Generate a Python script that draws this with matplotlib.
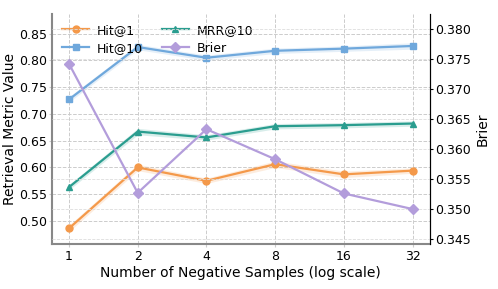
import numpy as np
import matplotlib
matplotlib.use('Agg')
import matplotlib.pyplot as plt

# data
neg_samples = [1, 2, 4, 8, 16, 32]
hit1 = [0.486, 0.600, 0.575, 0.606, 0.587, 0.594]
hit10 = [0.727, 0.825, 0.805, 0.818, 0.822, 0.827]
mrr10 = [0.563, 0.667, 0.656, 0.677, 0.679, 0.682]
brier = [0.3742, 0.3527, 0.3633, 0.3583, 0.3526, 0.3500]
hit1_std = [0.006, 0.006, 0.005, 0.006, 0.006, 0.005]
hit10_std = [0.005, 0.005, 0.005, 0.005, 0.005, 0.006]
mrr10_std = [0.005, 0.006, 0.005, 0.005, 0.005, 0.005]

c_hit1 = '#F4994A'
c_hit10 = '#6FA8DC'
c_mrr = '#2A9D8F'
c_brier = '#B39DDB'

fig, ax = plt.subplots(figsize=(4.98, 2.89), dpi=100)
fig.subplots_adjust(left=0.104, right=0.863, top=0.952, bottom=0.156)
ax2 = ax.twinx()

x = np.array(neg_samples)
handles = []
for vals, std, col, mk, lab in [(hit1, hit1_std, c_hit1, 'o', 'Hit@1'),
                                (hit10, hit10_std, c_hit10, 's', 'Hit@10'),
                                (mrr10, mrr10_std, c_mrr, '^', 'MRR@10')]:
    v = np.array(vals); s = np.array(std)
    ax.fill_between(x, v - s, v + s, color=col, alpha=0.18, lw=0)
    h, = ax.plot(x, v, color=col, marker=mk, ms=5, lw=1.6, label=lab)
    handles.append(h)

hb, = ax2.plot(x, brier, color=c_brier, marker='D', ms=5, lw=1.6, label='Brier')
handles.append(hb)

ax.set_xscale('log', base=2)
ax.set_xticks(neg_samples)
ax.set_xticklabels([str(n) for n in neg_samples])
ax.minorticks_off()
ax.set_ylim(0.457, 0.887)
ax.set_yticks([0.50, 0.55, 0.60, 0.65, 0.70, 0.75, 0.80, 0.85])
ax2.set_ylim(0.3442, 0.3825)
ax2.set_yticks([0.345, 0.350, 0.355, 0.360, 0.365, 0.370, 0.375, 0.380])

ax.grid(True, ls='--', color='#cccccc', lw=0.7)
ax2.grid(True, axis='y', ls='--', color='#dddddd', lw=0.6)
ax.set_axisbelow(True)

for a in (ax, ax2):
    a.spines['top'].set_visible(False)
ax.spines['left'].set_color('#888888')
ax.spines['bottom'].set_color('#888888')
ax.spines['left'].set_linewidth(1.5)
ax.spines['bottom'].set_linewidth(1.5)
ax2.spines['left'].set_visible(False)
ax2.spines['bottom'].set_visible(False)
ax2.spines['right'].set_color('black')
ax.tick_params(axis='y', length=2.5, color='#cccccc', labelsize=9, pad=1)
ax.tick_params(axis='x', length=2.5, color='#cccccc', labelsize=9, pad=2)
ax2.tick_params(axis='y', length=2.5, labelsize=9, pad=1.5)

ax.set_xlabel('Number of Negative Samples (log scale)', fontsize=10, labelpad=2)
ax.set_ylabel('Retrieval Metric Value', fontsize=10, labelpad=1.5)
ax2.set_ylabel('Brier', fontsize=10, labelpad=3)

ax.legend(handles=handles, ncol=2, loc='upper left', frameon=False,
          fontsize=9, handlelength=2.2, handletextpad=0.6, columnspacing=1.5,
          borderaxespad=0.4, labelspacing=0.4)

plt.savefig('out.png', dpi=100)
